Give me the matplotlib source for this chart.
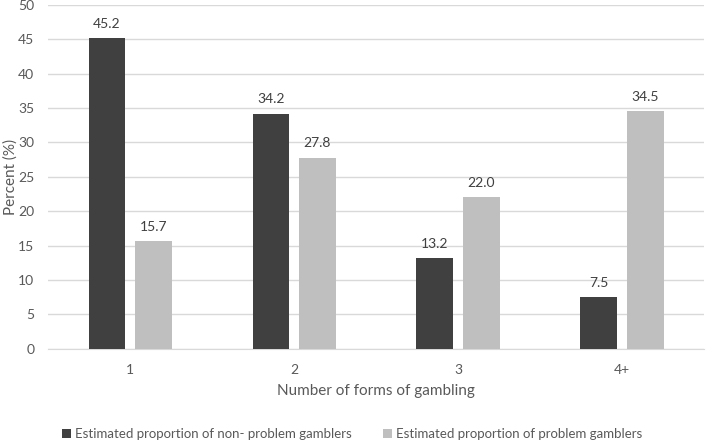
import numpy as np
import matplotlib
matplotlib.use('Agg')
import matplotlib.pyplot as plt

categories = ['1', '2', '3', '4+']
non_problem = [45.2, 34.2, 13.2, 7.5]
problem = [15.7, 27.8, 22.0, 34.5]
series_names = ['Estimated proportion of non- problem gamblers',
                'Estimated proportion of problem gamblers']

plt.rcParams['font.family'] = ['Lato', 'DejaVu Sans']
text_color = '#595959'

fig = plt.figure(figsize=(7.09, 4.41), dpi=100)
ax = fig.add_axes([0.068, 0.209, 0.925, 0.78])

x = np.arange(len(categories))
width = 0.224
offset = 0.142

b1 = ax.bar(x - offset, non_problem, width, color='#404040', label=series_names[0], zorder=3)
b2 = ax.bar(x + offset, problem, width, color='#bfbfbf', label=series_names[1], zorder=3)

for bars, vals in [(b1, non_problem), (b2, problem)]:
    for rect, v in zip(bars, vals):
        ax.text(rect.get_x() + rect.get_width() / 2, v + 1.2, f'{v:.1f}',
                ha='center', va='bottom', fontsize=10, color='#404040')

ax.set_xlim(-0.5, len(categories) - 0.5)
ax.set_ylim(0, 50)
ax.set_yticks(range(0, 51, 5))
ax.set_xticks(x)
ax.set_xticklabels(categories)
ax.yaxis.grid(True, color='#d9d9d9', linewidth=1, zorder=0)
ax.tick_params(axis='both', length=0, labelsize=10, labelcolor=text_color)
ax.tick_params(axis='x', pad=11)
ax.tick_params(axis='y', pad=10)
for side in ['top', 'right', 'left']:
    ax.spines[side].set_visible(False)
ax.spines['bottom'].set_color('#d9d9d9')

ax.set_xlabel('Number of forms of gambling', fontsize=11, color=text_color, labelpad=6)
ax.set_ylabel('Percent (%)', fontsize=11, color=text_color)
ax.yaxis.set_label_coords(-0.046, 0.5)

fig.legend(handles=[b1, b2], loc='lower left', bbox_to_anchor=(0.07, -0.025), ncol=2,
           frameon=False, fontsize=9.5, labelcolor=text_color, handlelength=0.7,
           handleheight=0.7, handletextpad=0.3, columnspacing=2.4)

fig.savefig('out.png', dpi=100)
